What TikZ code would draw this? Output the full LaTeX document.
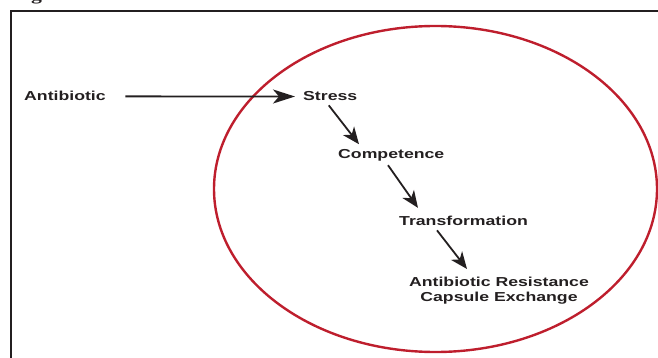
\documentclass[tikz,border=0pt]{standalone}
\usepackage{fontspec}
\setmainfont{Liberation Sans}
\newfontfamily\lblfont{Liberation Sans}[FakeStretch=1.36]
\newfontfamily\titlefont{Liberation Serif}[FakeStretch=1.36]
\usetikzlibrary{arrows.meta,calc}
\definecolor{ink}{RGB}{35,31,32}
\definecolor{ovalred}{RGB}{190,30,45}
\tikzset{
  lbl/.style={font=\lblfont\bfseries\fontsize{13}{14.8}\selectfont, text=ink, inner sep=0pt},
  arrd/.style={draw=ink, line width=1.8pt, -{Stealth[length=17pt,width=14pt,inset=5pt]}},
  arrh/.style={draw=ink, line width=1.8pt, -{Stealth[length=22pt,width=14pt,inset=6pt]}},
  frame/.style={draw=ink, line width=2.2pt},
  oval/.style={draw=ovalred, line width=2.4pt},
}
\begin{document}
\begin{tikzpicture}[x=1pt,y=-1pt]
\useasboundingbox (0,0) rectangle (658,358);
% frame and partly visible title
\draw[frame] (11,11) rectangle (720,420);
\node[font=\titlefont\bfseries\fontsize{16}{16}\selectfont, text=ink, inner sep=0pt, anchor=base west] (title) at (31,0.5) {g};
% cell oval
\draw[oval] (435.5,189) ellipse [x radius=221.5pt, y radius=163pt];
% labels
\node[lbl, anchor=base west] (anti) at (24,101) {Antibiotic};
\node[lbl, anchor=base west] (stress) at (303,101) {Stress};
\node[lbl, anchor=base west] (comp) at (338,159) {Competence};
\node[lbl, anchor=base west] (trans) at (399,225) {Transformation};
\node[lbl, align=center, anchor=north] (res) at (499,277) {Antibiotic Resistance\\Capsule Exchange};
% connectors
\draw[arrh, shorten <=19.5pt, shorten >=8pt] (anti.east) -- (stress.west);
\draw[arrd] ($(stress.south)+(-1.5,4)$) -- ($(comp.north west)+(21,-5.5)$);
\draw[arrd] ($(comp.south west)+(50,3.3)$) -- ($(trans.north west)+(19,-7.5)$);
\draw[arrd] ($(trans.south west)+(38,5)$) -- ($(res.north)+(-32,-8)$);
\end{tikzpicture}
\end{document}
